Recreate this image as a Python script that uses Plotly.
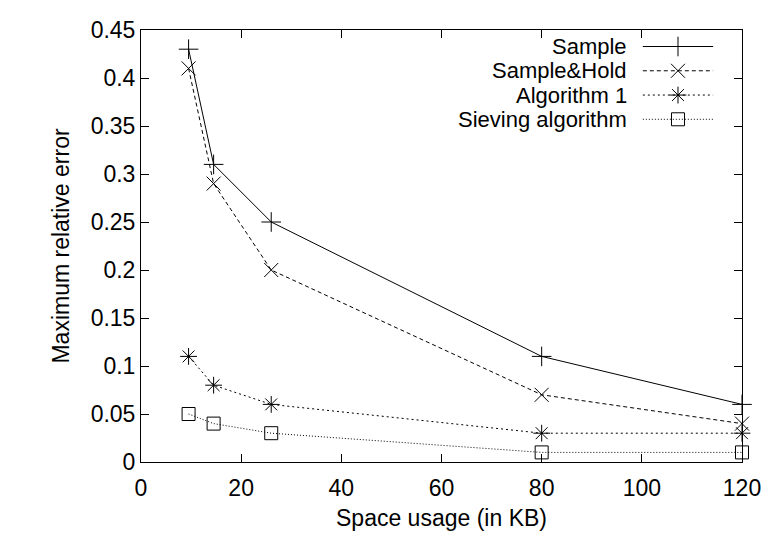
import plotly.graph_objects as go

x_kb = [9.5, 14.5, 26, 80, 120]
sample = [0.43, 0.31, 0.25, 0.11, 0.06]
sample_hold = [0.41, 0.29, 0.20, 0.07, 0.04]
algorithm1 = [0.11, 0.08, 0.06, 0.03, 0.03]
sieving = [0.05, 0.04, 0.03, 0.01, 0.01]

names = ["Sample", "Sample&Hold", "Algorithm 1", "Sieving algorithm"]
series = [sample, sample_hold, algorithm1, sieving]
dashes = ["solid", "4px,3px", "2px,3px", "1px,2px"]
symbols = ["cross-thin-open", "x-thin-open", "asterisk-open", "square-open"]
sizes = [14, 14, 14, 13]

x_ticks = [0, 20, 40, 60, 80, 100, 120]
y_ticks = [0, 0.05, 0.1, 0.15, 0.2, 0.25, 0.3, 0.35, 0.4, 0.45]
y_tick_text = ["0", "0.05", "0.1", "0.15", "0.2", "0.25", "0.3", "0.35", "0.4", "0.45"]

FONT = "Liberation Sans, Arial, sans-serif"
FS = 23
LEG_FS = 22

fig = go.Figure()
for name, ys, d, s, sz in zip(names, series, dashes, symbols, sizes):
    fig.add_trace(go.Scatter(
        x=x_kb, y=ys, mode="lines+markers", name=name, showlegend=False,
        line=dict(color="black", width=1, dash=d),
        marker=dict(symbol=s, size=sz, color="black", line=dict(color="black", width=1)),
        cliponaxis=False,
    ))

# gnuplot-style legend: text on the left, key sample on the right
leg_y = [0.9618, 0.9056, 0.8494, 0.7933]
for i, (name, d, s, sz) in enumerate(zip(names, dashes, symbols, sizes)):
    fig.add_trace(go.Scatter(
        x=[0.835, 0.952], y=[leg_y[i], leg_y[i]], mode="lines",
        line=dict(color="black", width=1, dash=d), showlegend=False,
        xaxis="x2", yaxis="y2", hoverinfo="skip"))
    fig.add_trace(go.Scatter(
        x=[0.8935], y=[leg_y[i]], mode="markers",
        marker=dict(symbol=s, size=sz, color="black", line=dict(color="black", width=1)),
        showlegend=False, xaxis="x2", yaxis="y2", hoverinfo="skip"))
    fig.add_annotation(xref="x2", yref="y2", x=0.810, y=leg_y[i], text=name,
                       showarrow=False, xanchor="right", yanchor="middle",
                       borderpad=0,
                       font=dict(family=FONT, size=LEG_FS, color="black"))

fig.update_layout(
    width=773, height=539,
    margin=dict(l=133, r=39, t=9, b=85),
    plot_bgcolor="white", paper_bgcolor="white",
    font=dict(family=FONT, size=FS, color="black"),
    xaxis=dict(range=[0, 120], tickvals=x_ticks, ticks="inside", ticklen=8,
               showline=True, linecolor="black", linewidth=1, mirror="ticks",
               showgrid=False, zeroline=False, tickcolor="black",
               ticklabelstandoff=5, ticklabeloverflow="allow",
               title=dict(text="Space usage (in KB)", standoff=10,
                          font=dict(family=FONT, size=FS))),
    yaxis=dict(range=[0, 0.45], tickvals=y_ticks, ticktext=y_tick_text,
               ticks="inside", ticklen=8,
               showline=True, linecolor="black", linewidth=1, mirror="ticks",
               showgrid=False, zeroline=False, tickcolor="black",
               ticklabeloverflow="allow",
               title=dict(text="Maximum relative error", standoff=14,
                          font=dict(family=FONT, size=FS))),
    xaxis2=dict(range=[0, 1], overlaying="x", visible=False, fixedrange=True),
    yaxis2=dict(range=[0, 1], overlaying="y", visible=False, fixedrange=True),
)

fig.write_html("out.html")
